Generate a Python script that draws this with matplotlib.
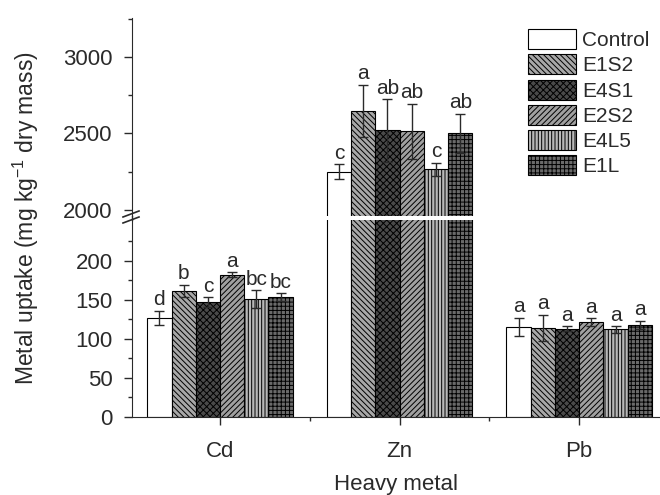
import matplotlib
matplotlib.use("Agg")
import numpy as np
import matplotlib.pyplot as plt
from matplotlib.lines import Line2D
from matplotlib.ticker import MultipleLocator, FixedLocator

plt.rcParams['font.family'] = ['Liberation Sans', 'DejaVu Sans']
plt.rcParams['mathtext.default'] = 'regular'
plt.rcParams['hatch.linewidth'] = 0.7

metals = ["Cd", "Zn", "Pb"]
treatments = ["Control", "E1S2", "E4S1", "E2S2", "E4L5", "E1L"]

# rows = treatments, columns = metals
means = {
    "Control": [127, 2250, 115],
    "E1S2":    [161, 2650, 114],
    "E4S1":    [147, 2520, 113],
    "E2S2":    [182, 2515, 121],
    "E4L5":    [151, 2265, 112],
    "E1L":     [153, 2500, 118],
}
errors = {
    "Control": [9, 50, 12],
    "E1S2":    [8, 170, 17],
    "E4S1":    [6, 205, 3],
    "E2S2":    [3, 180, 5],
    "E4L5":    [11, 45, 4],
    "E1L":     [5, 130, 5],
}
letters = {
    "Control": ["d", "c", "a"],
    "E1S2":    ["b", "a", "a"],
    "E4S1":    ["c", "ab", "a"],
    "E2S2":    ["a", "ab", "a"],
    "E4L5":    ["bc", "c", "a"],
    "E1L":     ["bc", "ab", "a"],
}

styles = {
    "Control": dict(color="white", hatch=None),
    "E1S2":    dict(color="#a8a8a8", hatch="\\\\\\\\\\\\"),
    "E4S1":    dict(color="#4a4a4a", hatch="xxxxx"),
    "E2S2":    dict(color="#a0a0a0", hatch="//////"),
    "E4L5":    dict(color="#b8b8b8", hatch="|||||"),
    "E1L":     dict(color="#6a6a6a", hatch="++++"),
}

fs = 16
ink = "#2a2a2a"

fig = plt.figure(figsize=(6.6, 4.95), dpi=100)
ax_lo = fig.add_axes([0.2, 0.1576, 0.8, 0.398])
ax_hi = fig.add_axes([0.2, 0.5636, 0.8, 0.4])

x = np.arange(len(metals))
w = 0.135
split = 1000

for i, t in enumerate(treatments):
    pos = x + (i - 2.5) * w
    for ax in (ax_lo, ax_hi):
        ax.bar(pos, means[t], w, yerr=errors[t], facecolor=styles[t]["color"],
               hatch=styles[t]["hatch"], edgecolor="black", linewidth=0.8,
               error_kw=dict(ecolor=ink, elinewidth=1, capsize=3.5, capthick=1),
               label=t if ax is ax_hi else None)
    for j in range(len(metals)):
        top = means[t][j] + errors[t][j]
        ax = ax_hi if means[t][j] > split else ax_lo
        ax.annotate(letters[t][j], (pos[j], top), xytext=(0, 1),
                    textcoords="offset points", ha="center", va="bottom",
                    fontsize=15, color=ink)

ax_lo.set_ylim(0, 252)
ax_hi.set_ylim(1960, 3255)
for ax in (ax_lo, ax_hi):
    ax.set_xlim(-0.49, 2.45)
    ax.spines["top"].set_visible(False)
    ax.spines["right"].set_visible(False)
    ax.spines["left"].set_color(ink)
    ax.spines["bottom"].set_color(ink)
    ax.tick_params(axis="y", which="major", length=6, width=1, pad=8,
                   labelsize=fs, colors=ink)
    ax.tick_params(axis="y", which="minor", length=3, width=1, colors=ink)
ax_hi.spines["bottom"].set_visible(False)
ax_hi.set_xticks([])
ax_hi.yaxis.set_major_locator(MultipleLocator(500))
ax_hi.yaxis.set_minor_locator(MultipleLocator(250))
ax_lo.yaxis.set_major_locator(FixedLocator([0, 50, 100, 150, 200]))
ax_lo.yaxis.set_minor_locator(FixedLocator([25, 75, 125, 175, 225]))

ax_lo.set_xticks(x)
ax_lo.set_xticklabels(metals)
ax_lo.set_xticks([0.5, 1.5], minor=True)
ax_lo.tick_params(axis="x", which="major", length=6, width=1, pad=11,
                  labelsize=fs, colors=ink)
ax_lo.tick_params(axis="x", which="minor", length=3, width=1, colors=ink)
ax_lo.set_xlabel("Heavy metal", fontsize=fs, color=ink, labelpad=9)

fig.text(0.04, 0.56, "Metal uptake (mg kg$^{-1}$ dry mass)", rotation=90,
         ha="center", va="center", fontsize=16.5, color=ink)

# connect the spine across the gap and draw the break marks
fig.add_artist(Line2D([0.2, 0.2], [0.5556, 0.5636], color=ink, lw=1))
for yb in (217, 223):
    fig.add_artist(Line2D([123 / 660, 139 / 660],
                          [1 - yb / 495, 1 - (yb - 6) / 495], color=ink, lw=1.2))

ax_hi.legend(loc="upper left", bbox_to_anchor=(528 / 660, 1 - 29 / 495),
             bbox_transform=fig.transFigure, frameon=False, fontsize=15,
             handlelength=2.3, handleheight=1.1, labelspacing=0.2,
             handletextpad=0.3, borderpad=0, borderaxespad=0,
             labelcolor=ink)

fig.savefig("out.png", dpi=100)
